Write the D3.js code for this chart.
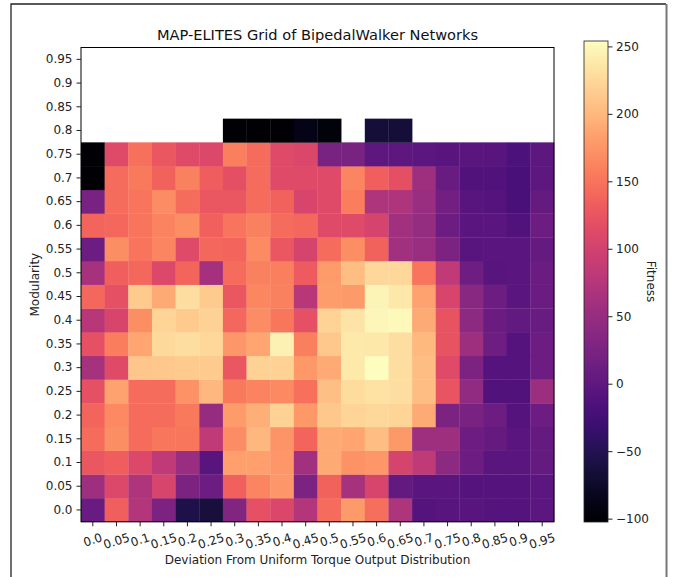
<!DOCTYPE html>
<html>
<head>
<meta charset="utf-8">
<script src="https://cdn.jsdelivr.net/npm/d3@7/dist/d3.min.js"></script>
<style>
  html, body { margin: 0; padding: 0; background: #fff; }
  svg { display: block; font-family: "DejaVu Sans", sans-serif; }
</style>
</head>
<body>
<svg id="chart" width="674" height="577"></svg>
<script>
// ---- data ----
const xLabels = ["0.0","0.05","0.1","0.15","0.2","0.25","0.3","0.35","0.4","0.45","0.5","0.55","0.6","0.65","0.7","0.75","0.8","0.85","0.9","0.95"];
const yLabels = ["0.0","0.05","0.1","0.15","0.2","0.25","0.3","0.35","0.4","0.45","0.5","0.55","0.6","0.65","0.7","0.75","0.8","0.85","0.9","0.95"];
const colorTicks = [250, 200, 150, 100, 50, 0, -50, -100];
const fitnessMin = -102.5, fitnessMax = 254;

// fitness per modularity row (columns = deviation 0.0 .. 0.95); null = empty cell
const row000 = [8,133,73,27,-56,-63,30,120,108,73,144,178,146,70,-10,-6,-6,-10,-10,-3];
const row005 = [55,110,70,105,26,12,135,163,176,26,137,62,105,3,-5,-5,-10,-10,-10,-3];
const row010 = [126,132,110,83,51,-6,182,182,176,59,190,172,176,103,83,40,12,-4,-4,5];
const row015 = [143,170,144,151,151,83,168,200,174,139,190,186,205,177,55,55,12,5,-4,6];
const row020 = [139,165,144,143,155,48,179,193,220,177,213,222,226,222,190,27,22,12,-10,12];
const row025 = [120,185,143,143,172,200,154,162,165,147,206,228,233,229,205,124,45,-12,-12,54];
const row030 = [62,113,212,213,215,215,126,220,220,177,190,238,253,229,205,112,27,-10,-10,12];
const row035 = [120,157,186,227,229,226,176,186,244,158,213,238,236,230,202,123,55,14,-10,12];
const row040 = [76,105,170,222,214,220,141,168,152,120,221,234,249,251,190,122,40,10,3,8];
const row045 = [141,120,215,190,229,215,126,164,160,76,181,178,247,237,185,105,38,13,-4,10];
const row050 = [62,133,141,110,138,61,145,160,159,130,179,204,225,225,150,83,14,-6,-5,10];
const row055 = [12,170,150,163,113,141,139,167,126,103,143,170,137,59,52,27,-6,-4,-4,6];
const row060 = [139,141,150,161,170,135,150,160,144,140,112,112,103,59,47,12,-5,-4,-12,12];
const row065 = [22,143,150,168,144,126,127,145,137,105,112,157,70,70,51,16,-6,-10,-18,5];
const row070 = [-100,143,155,137,160,132,118,145,112,112,112,163,134,118,55,8,-13,-13,-18,-2];
const row075 = [-100,112,147,126,112,110,158,144,112,108,22,22,-2,-2,-3,-6,-5,-6,-17,-2];
const row080 = [null,null,null,null,null,null,-100,-100,-100,-88,-95,null,-66,-66,null,null,null,null,null,null];
const fitnessRows = [row000,row005,row010,row015,row020,row025,row030,row035,row040,row045,row050,row055,row060,row065,row070,row075,row080];

// ---- layout ----
const svg = d3.select("#chart");
const plot = {left: 81, right: 554, top: 47.5, bottom: 521.8};
const cbar = {left: 584, right: 608, top: 41, bottom: 522};
const fs = 12;

// figure frame
svg.append("path").attr("d", "M11,580 L11,4 L666,4").attr("fill","none").attr("stroke","#222").attr("stroke-width",1.3);
svg.append("line").attr("x1",666.5).attr("x2",666.5).attr("y1",4).attr("y2",580).attr("stroke","#777").attr("stroke-width",2);

const x = d3.scaleBand().domain(xLabels).range([plot.left, plot.right]).padding(0);
const y = d3.scaleBand().domain(yLabels).range([plot.bottom, plot.top]).padding(0);
const color = d3.scaleSequential(d3.interpolateMagma).domain([fitnessMin, fitnessMax]);

const cells = [];
fitnessRows.forEach((row, ri) => row.forEach((v, ci) => {
  if (v !== null) cells.push({xk: xLabels[ci], yk: yLabels[ri], v});
}));

svg.append("g").selectAll("rect").data(cells).join("rect")
  .attr("x", d => x(d.xk))
  .attr("y", d => y(d.yk))
  .attr("width", x.bandwidth() + 0.3)
  .attr("height", y.bandwidth() + 0.3)
  .attr("fill", d => color(d.v));

// axes frame
svg.append("rect").attr("x", plot.left).attr("y", plot.top)
  .attr("width", plot.right - plot.left).attr("height", plot.bottom - plot.top)
  .attr("fill","none").attr("stroke","#000").attr("stroke-width",1);

// y axis
const yAxis = svg.append("g").attr("transform", `translate(${plot.left},0)`)
  .call(d3.axisLeft(y).tickSize(4.5).tickPadding(4));
yAxis.select(".domain").remove();
yAxis.selectAll("text").attr("font-size", fs).attr("fill","#222").style("font-family","DejaVu Sans");
yAxis.selectAll("line").attr("stroke","#222");

// x axis
const xAxis = svg.append("g").attr("transform", `translate(0,${plot.bottom})`)
  .call(d3.axisBottom(x).tickSize(4.5).tickFormat(""));
xAxis.select(".domain").remove();
xAxis.selectAll("line").attr("stroke","#222");

const rotDeg = 18;
const ang = rotDeg * Math.PI / 180;
const xl = svg.append("g");
xLabels.forEach(lab => {
  const t = xl.append("text").text(lab)
    .attr("font-size", fs).attr("fill","#222")
    .attr("text-anchor","middle").attr("dominant-baseline","central");
  const w = t.node().getComputedTextLength();
  const h = fs * 1.0;
  const H = w * Math.sin(ang) + h * Math.cos(ang);
  const cx = x(lab) + x.bandwidth() / 2;
  const cy = plot.bottom + 4.5 + 5 + H / 2;
  t.attr("transform", `translate(${cx},${cy}) rotate(${-rotDeg})`);
});

// title and axis labels
svg.append("text").attr("x", (plot.left + plot.right) / 2).attr("y", 40)
  .attr("text-anchor","middle").attr("font-size", 14.6).attr("fill","#111")
  .text("MAP-ELITES Grid of BipedalWalker Networks");
svg.append("text").attr("x", (plot.left + plot.right) / 2).attr("y", 564)
  .attr("text-anchor","middle").attr("font-size", fs).attr("fill","#222")
  .text("Deviation From Uniform Torque Output Distribution");
svg.append("text")
  .attr("transform", `translate(39,${(plot.top + plot.bottom) / 2}) rotate(-90)`)
  .attr("text-anchor","middle").attr("font-size", fs).attr("fill","#222")
  .text("Modularity");

// colorbar
const defs = svg.append("defs");
const grad = defs.append("linearGradient").attr("id","cgrad")
  .attr("x1","0").attr("y1","1").attr("x2","0").attr("y2","0");
d3.range(0, 1.0001, 0.02).forEach(t => {
  grad.append("stop").attr("offset", t).attr("stop-color", d3.interpolateMagma(t));
});
svg.append("rect").attr("x", cbar.left).attr("y", cbar.top)
  .attr("width", cbar.right - cbar.left).attr("height", cbar.bottom - cbar.top)
  .attr("fill","url(#cgrad)").attr("stroke","#222").attr("stroke-width",0.8);

const cy = d3.scaleLinear().domain([fitnessMin, fitnessMax]).range([cbar.bottom, cbar.top]);
const cAxis = svg.append("g").attr("transform", `translate(${cbar.right},0)`)
  .call(d3.axisRight(cy).tickValues(colorTicks).tickSize(4.5).tickPadding(3.5)
    .tickFormat(d => d < 0 ? "\u2212" + Math.abs(d) : String(d)));
cAxis.select(".domain").remove();
cAxis.selectAll("text").attr("font-size", fs).attr("fill","#222").style("font-family","DejaVu Sans");
cAxis.selectAll("line").attr("stroke","#222");

svg.append("text")
  .attr("transform", `translate(647,${(cbar.top + cbar.bottom) / 2}) rotate(90)`)
  .attr("text-anchor","middle").attr("font-size", fs).attr("fill","#222")
  .text("Fitness");
</script>
</body>
</html>
